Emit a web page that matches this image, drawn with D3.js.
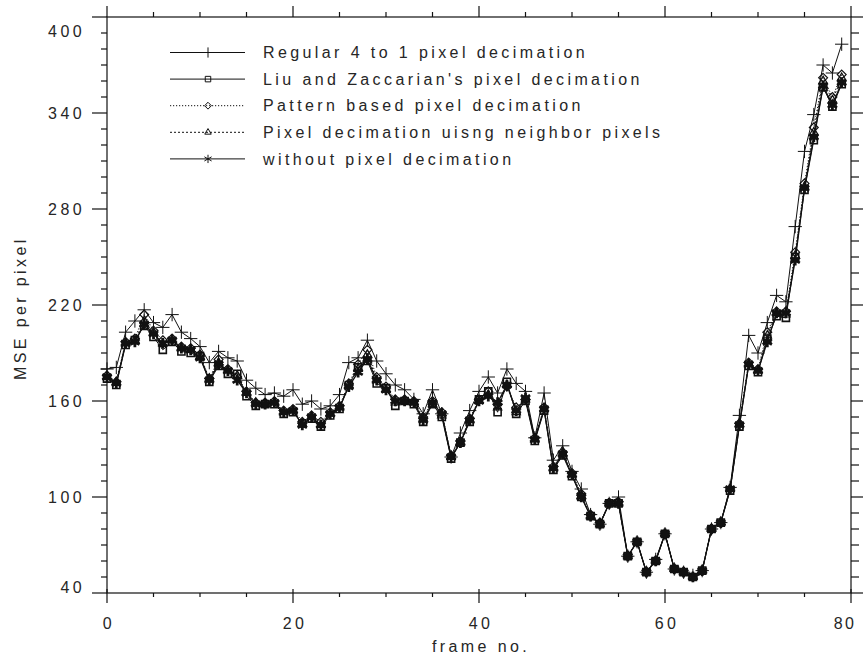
<!DOCTYPE html>
<html>
<head>
<meta charset="utf-8">
<script src="https://cdn.jsdelivr.net/npm/d3@7"></script>
<style>
  body { margin: 0; background: #fff; }
  text { font-family: 'Liberation Sans', Arial, sans-serif; fill: #262626; }
</style>
</head>
<body>
<svg id="chart" width="863" height="658"></svg>
<script>
const frames = d3.range(0, 80);

const seriesNames = [
  'Regular 4 to 1 pixel decimation',
  "Liu and Zaccarian's pixel decimation",
  'Pattern based pixel decimation',
  'Pixel decimation uisng neighbor pixels',
  'without pixel decimation'
];

const regular = [180, 181, 203, 210, 217, 209, 206, 214, 203, 199,
  194, 184, 191, 187, 185, 173, 168, 164, 165, 163,
  167, 158, 160, 155, 157, 164, 184, 187, 198, 185,
  177, 170, 167, 161, 152, 167, 152, 125, 140, 154,
  166, 175, 165, 180, 171, 166, 137, 165, 123, 132,
  116, 105, 89, 83, 96, 100, 63, 72, 53, 61,
  77, 55, 53, 51, 54, 80, 84, 106, 151, 201,
  190, 209, 226, 222, 269, 316, 339, 370, 365, 383];

const liu = [174, 170, 195, 198, 207, 200, 192, 197, 191, 190,
  188, 172, 182, 177, 177, 163, 157, 158, 158, 152,
  153, 146, 149, 144, 151, 155, 170, 181, 185, 171,
  168, 157, 160, 158, 147, 158, 150, 124, 134, 147,
  161, 166, 153, 172, 152, 160, 135, 154, 117, 126,
  113, 100, 88, 83, 96, 96, 63, 72, 53, 60,
  77, 55, 53, 50, 54, 80, 84, 104, 144, 182,
  178, 199, 213, 212, 250, 292, 323, 356, 344, 358];

const pattern = [176, 172, 197, 199, 214, 204, 198, 199, 194, 193,
  189, 174, 186, 180, 175, 166, 159, 159, 160, 154,
  155, 147, 151, 147, 153, 157, 171, 183, 192, 175,
  169, 161, 161, 160, 150, 160, 153, 126, 135, 149,
  161, 166, 158, 169, 156, 161, 137, 156, 119, 128,
  115, 102, 89, 84, 96, 97, 63, 72, 53, 60,
  77, 55, 53, 50, 54, 80, 84, 105, 146, 184,
  180, 203, 216, 216, 253, 296, 331, 362, 350, 364];

const neighbor = [175, 172, 196, 198, 210, 203, 196, 198, 193, 192,
  188, 174, 184, 179, 176, 165, 159, 158, 159, 153,
  154, 146, 150, 145, 152, 156, 170, 180, 189, 173,
  167, 159, 160, 159, 149, 158, 151, 125, 134, 148,
  160, 164, 156, 170, 153, 161, 136, 155, 118, 127,
  114, 101, 88, 83, 96, 96, 63, 72, 53, 60,
  77, 55, 53, 50, 54, 80, 84, 105, 146, 183,
  179, 201, 215, 214, 251, 294, 328, 360, 348, 362];

const without = [175, 171, 196, 197, 208, 202, 196, 198, 193, 192,
  187, 173, 183, 179, 173, 165, 158, 158, 159, 153,
  154, 145, 150, 145, 152, 156, 169, 178, 186, 173,
  167, 160, 160, 159, 148, 159, 152, 125, 134, 148,
  160, 163, 159, 170, 154, 162, 136, 155, 118, 127,
  114, 100, 88, 83, 96, 96, 63, 72, 53, 60,
  77, 55, 53, 50, 54, 80, 84, 105, 145, 183,
  179, 197, 215, 215, 248, 293, 325, 357, 345, 359];

const xTicks = [0, 20, 40, 60, 80];
const yTicks = [40, 100, 160, 220, 280, 340, 400];

(() => {
  const svg = d3.select('#chart'),
      margin = {top: 17, right: 12, bottom: 65, left: 107},
      width = +svg.attr('width') - margin.left - margin.right,
      height = +svg.attr('height') - margin.top - margin.bottom;

  const x = d3.scaleLinear().domain([0, 80]).range([0, width]);
  const y = d3.scaleLinear().domain([40, 400]).range([height, 0]);

  const g = svg.append('g')
      .attr('transform', `translate(${margin.left},${margin.top})`);

  // frame
  g.append('rect')
      .attr('width', width)
      .attr('height', height)
      .attr('fill', 'none')
      .attr('stroke', '#111')
      .attr('stroke-width', 1.2);

  const minorY = d3.range(40, 401, 10);
  const minorX = d3.range(0, 81, 5);
  const isMajorY = v => yTicks.includes(v);
  const isMajorX = v => xTicks.includes(v);

  const ticks = g.append('g')
      .attr('stroke', '#111')
      .attr('stroke-width', 1.2);

  // left + right ticks
  ticks.selectAll('.yl').data(minorY).enter().append('line')
      .attr('x1', d => isMajorY(d) ? -15 : -6).attr('x2', 0)
      .attr('y1', y).attr('y2', y);
  ticks.selectAll('.yr').data(minorY).enter().append('line')
      .attr('x1', width).attr('x2', d => width + (isMajorY(d) ? 14 : 8))
      .attr('y1', y).attr('y2', y);
  // bottom + top ticks
  ticks.selectAll('.xb').data(minorX).enter().append('line')
      .attr('x1', x).attr('x2', x)
      .attr('y1', d => isMajorX(d) ? height - 4 : height)
      .attr('y2', d => height + (isMajorX(d) ? 10 : 4));
  ticks.selectAll('.xt').data(minorX).enter().append('line')
      .attr('x1', x).attr('x2', x)
      .attr('y1', 0)
      .attr('y2', d => isMajorX(d) ? -11 : -5);

  const labelFont = {size: '16px', spacing: '3.4px'};

  g.append('g').selectAll('text')
      .data(xTicks)
      .enter().append('text')
      .attr('x', d => d === 80 ? x(d) - 6 : x(d) + 2)
      .attr('y', height + 36)
      .attr('text-anchor', 'middle')
      .style('font-size', labelFont.size)
      .style('letter-spacing', d => d === 80 ? '2.4px' : labelFont.spacing)
      .text(d => d);

  g.append('g').selectAll('text')
      .data(yTicks)
      .enter().append('text')
      .attr('x', -22)
      .attr('y', d => d === 400 ? y(d) + 14 : d === 40 ? y(d) - 6 : y(d))
      .attr('dy', '0.35em')
      .attr('text-anchor', 'end')
      .style('font-size', labelFont.size)
      .style('letter-spacing', labelFont.spacing)
      .text(d => d);

  g.append('text')
      .attr('x', width / 2 + 2)
      .attr('y', height + 59)
      .attr('text-anchor', 'middle')
      .style('font-size', labelFont.size)
      .style('letter-spacing', labelFont.spacing)
      .text('frame no.');

  g.append('text')
      .attr('transform', `translate(${-81},${y(218)})rotate(-90)`)
      .attr('text-anchor', 'middle')
      .style('font-size', labelFont.size)
      .style('letter-spacing', labelFont.spacing)
      .text('MSE per pixel');

  const series = [
    {name: seriesNames[0], values: regular, symbol: d3.symbolPlus, size: 60, dash: null, width: 1, mw: 1},
    {name: seriesNames[1], values: liu, symbol: d3.symbolSquare2, size: 64, dash: null, width: 1, mw: 1.6},
    {name: seriesNames[2], values: pattern, symbol: d3.symbolDiamond2, size: 50, dash: '1.2,1.8', width: 1, mw: 1.2},
    {name: seriesNames[3], values: neighbor, symbol: d3.symbolTriangle2, size: 50, dash: '2,2', width: 1, mw: 1.2},
    {name: seriesNames[4], values: without, symbol: d3.symbolAsterisk, size: 80, dash: null, width: 1.3, mw: 2.8}
  ];

  const line = d3.line()
      .x((d, i) => x(frames[i]))
      .y(d => y(d));

  const plot = g.append('g');

  series.forEach(s => {
    plot.append('path')
        .datum(s.values)
        .attr('d', line)
        .attr('fill', 'none')
        .attr('stroke', '#111')
        .attr('stroke-width', s.width)
        .attr('stroke-dasharray', s.dash);
  });

  series.forEach(s => {
    plot.append('g').selectAll('path')
        .data(s.values)
        .enter().append('path')
        .attr('transform', (d, i) => `translate(${x(frames[i])},${y(d)})`)
        .attr('d', d3.symbol(s.symbol, s.size))
        .attr('fill', 'none')
        .attr('stroke', '#111')
        .attr('stroke-width', s.mw);
  });

  // legend
  const legend = g.append('g')
      .selectAll('g')
      .data(series)
      .enter().append('g')
      .attr('transform', (d, i) => `translate(63,${35.5 + i * 26.6})`);

  legend.append('line')
      .attr('x1', 0)
      .attr('x2', 75)
      .attr('stroke', '#111')
      .attr('stroke-width', 1)
      .attr('stroke-dasharray', d => d.dash);

  legend.append('path')
      .attr('transform', 'translate(38,0)')
      .attr('d', d => d3.symbol(d.symbol, d.size * 0.6)())
      .attr('fill', 'none')
      .attr('stroke', '#111')
      .attr('stroke-width', 1);

  legend.append('text')
      .attr('x', 93)
      .attr('dy', '0.35em')
      .style('font-size', labelFont.size)
      .style('letter-spacing', labelFont.spacing)
      .text(d => d.name);
})();
</script>
</body>
</html>
